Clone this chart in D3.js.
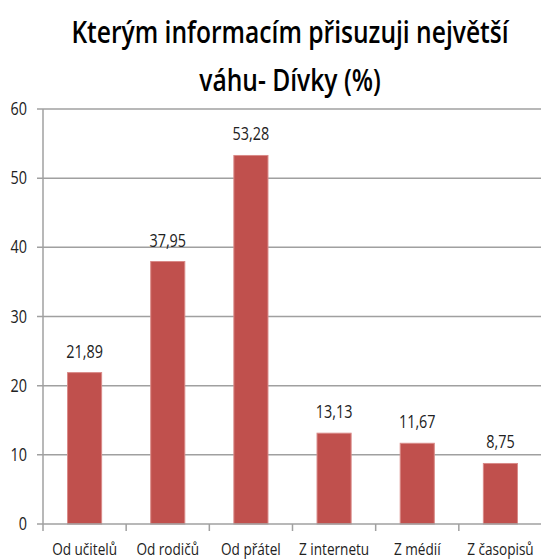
<!DOCTYPE html>
<html>
<head>
<meta charset="utf-8">
<script src="https://cdn.jsdelivr.net/npm/d3@7"></script>
<style>
  body { margin: 0; background: #fff; }
  text { font-family: "Open Sans", Calibri, sans-serif; }
</style>
</head>
<body>
<div id="chart"></div>
<script>
// Data
const categories = ["Od učitelů", "Od rodičů", "Od přátel", "Z internetu", "Z médií", "Z časopisů"];
const values = [21.89, 37.95, 53.28, 13.13, 11.67, 8.75];
const yTicks = [0, 10, 20, 30, 40, 50, 60];
const titleLines = ["Kterým informacím přisuzuji největší", "váhu- Dívky (%)"];

const W = 541, H = 560;
const margin = { top: 109, right: -1, bottom: 36, left: 43 };
const width = W - margin.left - margin.right;
const height = H - margin.top - margin.bottom;
const sx = 0.8; // text looks horizontally squeezed

const svg = d3.select("#chart")
    .append("svg")
    .attr("width", W)
    .attr("height", H);

const g = svg.append("g")
    .attr("transform", `translate(${margin.left},${margin.top})`);

const x = d3.scaleBand()
    .domain(categories)
    .range([0, width])
    .paddingInner(0.59)
    .paddingOuter(0.295);

const y = d3.scaleLinear()
    .domain([0, 60])
    .range([height, 0]);

// Gridlines
g.selectAll("line.grid")
    .data(yTicks.filter(d => d > 0))
    .enter()
    .append("line")
    .attr("class", "grid")
    .attr("x1", -6)
    .attr("x2", width)
    .attr("y1", d => y(d))
    .attr("y2", d => y(d))
    .attr("stroke", "#a0a0a0")
    .attr("stroke-width", 1.5);

// Y axis line + labels
g.append("line")
    .attr("x1", 0).attr("x2", 0)
    .attr("y1", y(60)).attr("y2", height)
    .attr("stroke", "#a0a0a0")
    .attr("stroke-width", 1.5);

g.selectAll("text.ytick")
    .data(yTicks)
    .enter()
    .append("text")
    .attr("class", "ytick")
    .attr("transform", d => `translate(-16,${y(d) + 6}) scale(${sx},1)`)
    .attr("text-anchor", "end")
    .attr("font-size", 18)
    .attr("fill", "#222")
    .text(d => d);

// Bars
g.selectAll("rect")
    .data(values)
    .enter()
    .append("rect")
    .attr("x", (d, i) => x(categories[i]))
    .attr("y", d => y(d))
    .attr("width", x.bandwidth())
    .attr("height", d => height - y(d))
    .attr("fill", "#c0504d")
    .attr("stroke", "#d98a88")
    .attr("stroke-width", 1);

// Value labels
g.selectAll("text.val")
    .data(values)
    .enter()
    .append("text")
    .attr("class", "val")
    .attr("transform", (d, i) => `translate(${x(categories[i]) + x.bandwidth() / 2},${y(d) - 15}) scale(${sx},1)`)
    .attr("text-anchor", "middle")
    .attr("font-size", 18)
    .attr("fill", "#222")
    .text(d => d.toFixed(2).replace(".", ","));

// X axis line + ticks
g.append("line")
    .attr("x1", -6).attr("x2", width)
    .attr("y1", height).attr("y2", height)
    .attr("stroke", "#a0a0a0")
    .attr("stroke-width", 1.5);

const step = x.step();
g.selectAll("line.xtick")
    .data(d3.range(categories.length))
    .enter()
    .append("line")
    .attr("class", "xtick")
    .attr("x1", i => i * step).attr("x2", i => i * step)
    .attr("y1", height).attr("y2", height + 7)
    .attr("stroke", "#a0a0a0")
    .attr("stroke-width", 1.5);

g.selectAll("text.cat")
    .data(categories)
    .enter()
    .append("text")
    .attr("class", "cat")
    .attr("transform", d => `translate(${x(d) + x.bandwidth() / 2},${height + 31}) scale(${sx},1)`)
    .attr("text-anchor", "middle")
    .attr("font-size", 17)
    .attr("fill", "#222")
    .text(d => d);

// Title
svg.selectAll("text.title")
    .data(titleLines)
    .enter()
    .append("text")
    .attr("class", "title")
    .attr("transform", (d, i) => `translate(290,${43 + i * 48}) scale(0.82,1)`)
    .attr("text-anchor", "middle")
    .attr("font-size", 30)
    .attr("font-weight", 600)
    .attr("fill", "#000")
    .text(d => d);
</script>
</body>
</html>
